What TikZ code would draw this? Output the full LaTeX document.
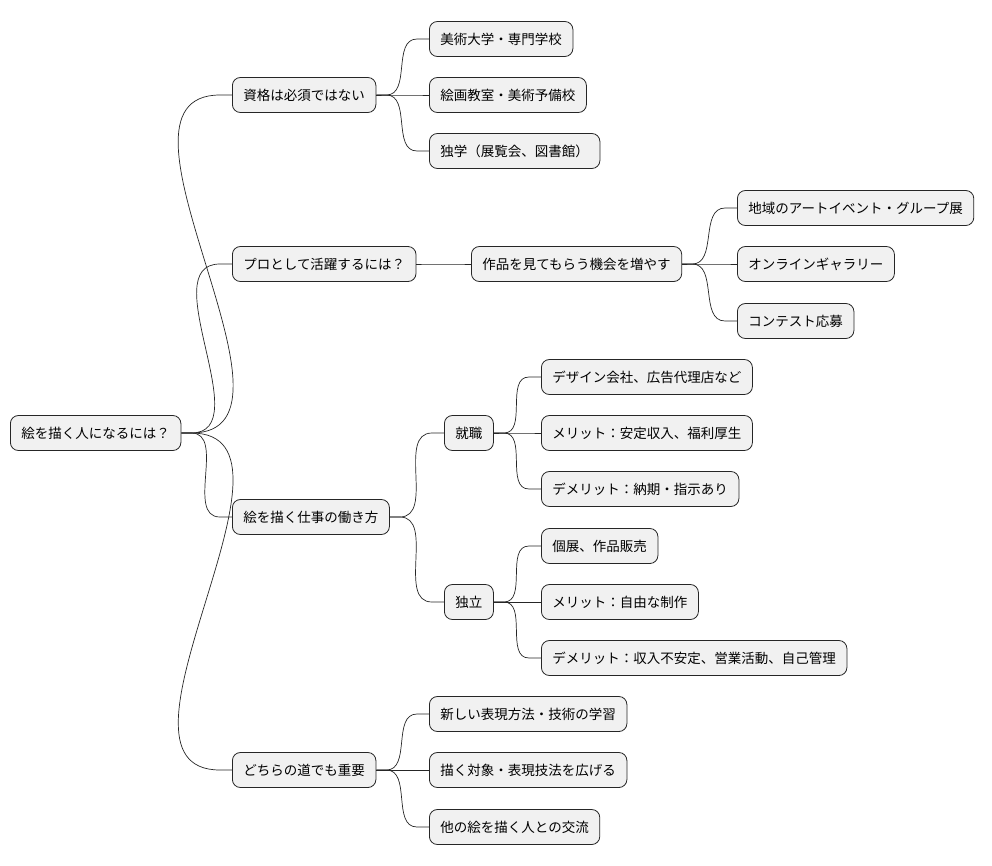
\documentclass[tikz,border=0pt]{standalone}
\usepackage{fontspec}
\setmainfont{Noto Sans CJK JP}
\usetikzlibrary{calc}
\begin{document}
\begin{tikzpicture}[x=1pt,y=-1pt,
  box/.style={draw=black!85,line width=0.8pt,fill={rgb,255:red,241;green,241;blue,241},rounded corners=8pt,
    minimum height=35pt,inner xsep=11pt,anchor=west,font=\fontsize{13.5}{16}\selectfont},
  conn/.style={draw=black!85,line width=0.7pt}]
\useasboundingbox (0,0) rectangle (992,865);
\node[box] (r) at (10,433) {絵を描く人になるには？};
\node[box] (a) at (232,95) {資格は必須ではない};
\node[box] (b) at (232,264) {プロとして活躍するには？};
\node[box] (c) at (232,517) {絵を描く仕事の働き方};
\node[box] (d) at (232,770) {どちらの道でも重要};
\node[box] (a1) at (429,39) {美術大学・専門学校};
\node[box] (a2) at (429,95) {絵画教室・美術予備校};
\node[box] (a3) at (429,151) {独学（展覧会、図書館）};
\node[box] (b1) at (471,264) {作品を見てもらう機会を増やす};
\node[box] (b11) at (737,208) {地域のアートイベント・グループ展};
\node[box] (b12) at (737,264) {オンラインギャラリー};
\node[box] (b13) at (737,321) {コンテスト応募};
\node[box] (c1) at (444,433) {就職};
\node[box] (c2) at (444,602) {独立};
\node[box] (c11) at (541,377) {デザイン会社、広告代理店など};
\node[box] (c12) at (541,433) {メリット：安定収入、福利厚生};
\node[box] (c13) at (541,489) {デメリット：納期・指示あり};
\node[box] (c21) at (541,546) {個展、作品販売};
\node[box] (c22) at (541,602) {メリット：自由な制作};
\node[box] (c23) at (541,658) {デメリット：収入不安定、営業活動、自己管理};
\node[box] (d1) at (429,714) {新しい表現方法・技術の学習};
\node[box] (d2) at (429,770) {描く対象・表現技法を広げる};
\node[box] (d3) at (429,827) {他の絵を描く人との交流};
\foreach \p/\c in {r/a,r/b,r/c,r/d,a/a1,a/a2,a/a3,b/b1,b1/b11,b1/b12,b1/b13,c/c1,c/c2,c1/c11,c1/c12,c1/c13,c2/c21,c2/c22,c2/c23,d/d1,d/d2,d/d3}
  \draw[conn] (\p.east) -- ++(10,0) to[out=0,in=180] ($(\c.west)+(-12,0)$) -- (\c.west);
\end{tikzpicture}
\end{document}
